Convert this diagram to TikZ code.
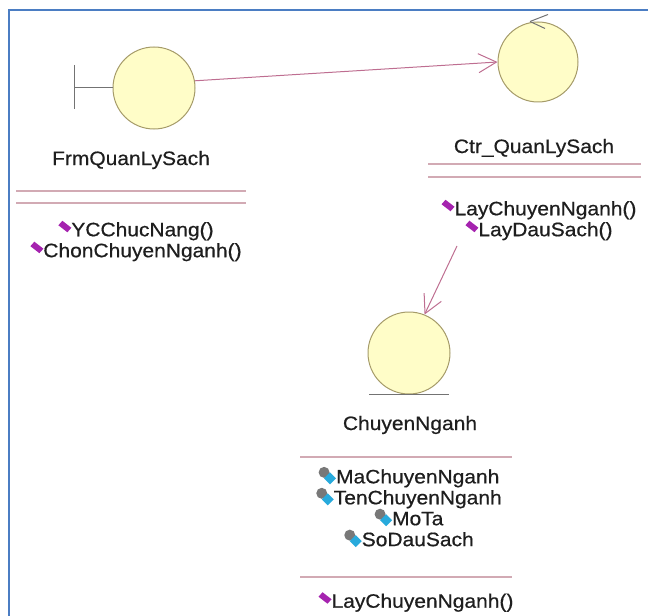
\documentclass[tikz,border=0pt]{standalone}
\usepackage{fontspec}
\setmainfont{Liberation Sans}[FakeStretch=1.08,FakeBold=0.6]
\usetikzlibrary{arrows.meta}

\definecolor{objfill}{RGB}{255,253,200}
\definecolor{objline}{RGB}{165,155,105}
\definecolor{markcol}{RGB}{115,115,115}
\definecolor{assoccol}{RGB}{190,110,145}
\definecolor{sepline}{RGB}{210,170,180}
\definecolor{opcol}{RGB}{165,35,175}
\definecolor{keycol}{RGB}{120,120,120}
\definecolor{attcol}{RGB}{40,170,220}
\definecolor{framecol}{RGB}{75,125,195}
\definecolor{txtcol}{RGB}{30,30,30}

% member icons
\newcommand{\opicon}{\tikz[x=1bp,y=1bp,baseline=0pt]\fill[opcol] (0,11) -- (4,15.5) -- (13,8.5) -- (9,4) -- cycle;}
\newcommand{\atticon}{\tikz[x=1bp,y=1bp,baseline=0pt]{\fill[keycol] (6,11) circle (5.5); \fill[attcol] (12,-1) -- (18,5) -- (12,11) -- (6,5) -- cycle;}}

\begin{document}
\begin{tikzpicture}[x=1bp,y=-1bp,
    obj/.style={circle,draw=objline,fill=objfill,line width=1bp,minimum size=82bp,inner sep=0pt},
    txt/.style={text=txtcol,font=\fontsize{19.5}{21}\selectfont,align=center,inner sep=0pt},
    sep/.style={draw=sepline,line width=1.5bp},
    assoc/.style={draw=assoccol,line width=1bp,-{Straight Barb[length=18bp,width=19bp]}}]
  \useasboundingbox (0,0) rectangle (648,616);

  % Frame
  \draw[framecol,line width=2bp] (9,616) -- (9,10) -- (648,10);

  % Objects
  \node[obj] (frm) at (154,88) {};
  \node[obj,minimum size=80bp] (ctr) at (538,62) {};
  \node[obj] (cn) at (409,353) {};

  % Stereotype marks
  \draw[markcol,line width=1bp] (74,65) -- (74,109);
  \draw[markcol,line width=1bp] (74,88) -- (frm.west);
  \draw[markcol,line width=1bp] ([xshift=-8bp]ctr.north) -- ++(18,-7);
  \draw[markcol,line width=1bp] ([xshift=-8bp]ctr.north) -- ++(15,7);
  \draw[markcol,line width=1bp] ([xshift=-40bp]cn.south) -- ([xshift=40bp]cn.south);

  % Names
  \node[txt] (frmname) at (131,160) {FrmQuanLySach};
  \node[txt] (ctrname) at (534,148) {Ctr\_QuanLySach};
  \node[txt] (cnname) at (410,425) {ChuyenNganh};

  % Compartments
  \draw[sep] (16,191) -- (246,191);
  \draw[sep] (16,203) -- (246,203);
  \draw[sep] (428,164) -- (641,164);
  \draw[sep] (428,177) -- (641,177);
  \draw[sep] (300,457) -- (512,457);
  \draw[sep] (300,577) -- (512,577);

  % Members
  \node[txt] (frmops) at (136,241) {\opicon YCChucNang()\\\opicon ChonChuyenNganh()};
  \node[txt] (ctrops) at (539,220) {\opicon LayChuyenNganh()\\\opicon LayDauSach()};
  \node[txt] (cnattr) at (409,507) {\atticon MaChuyenNganh\\\atticon TenChuyenNganh\\\atticon MoTa\\\atticon SoDauSach};
  \node[txt] (cnops) at (416,602) {\opicon LayChuyenNganh()};

  % Links
  \coordinate (ctrlow) at (457,246);
  \draw[assoc] (frm.10) -- (ctr.west);
  \draw[assoc] (ctrlow) -- (cn.68);
\end{tikzpicture}
\end{document}
